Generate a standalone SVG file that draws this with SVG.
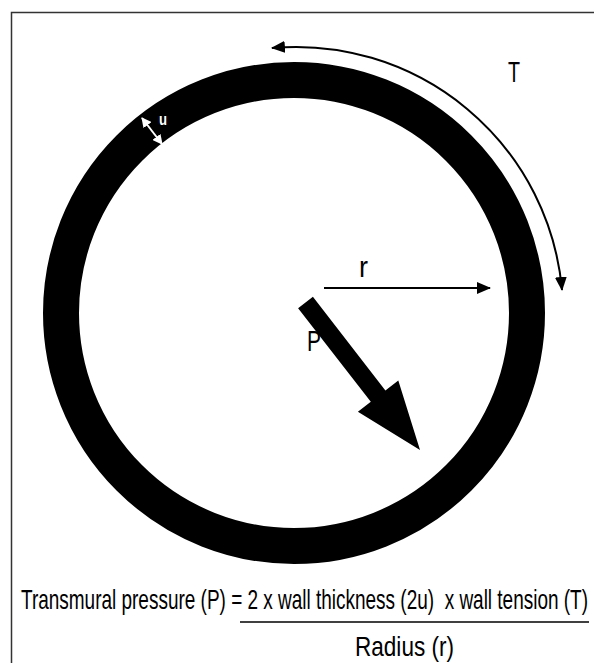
<svg xmlns="http://www.w3.org/2000/svg" width="594" height="663" viewBox="0 0 594 663">
<style>
.lbl{font-family:"Liberation Sans",Arial,sans-serif;fill:#000}
.conn{stroke:#000;stroke-width:2;fill:none}
</style>
<defs>
<marker id="ah" markerWidth="14" markerHeight="12" refX="13" refY="6" orient="auto" markerUnits="userSpaceOnUse">
<path d="M0,0 L14,6 L0,12 Z" fill="#000"/>
</marker>
<marker id="ahs" markerWidth="14" markerHeight="12" refX="1" refY="6" orient="auto" markerUnits="userSpaceOnUse">
<path d="M14,0 L0,6 L14,12 Z" fill="#000"/>
</marker>
<marker id="wh" markerWidth="10" markerHeight="10" refX="9" refY="5" orient="auto" markerUnits="userSpaceOnUse">
<path d="M0,0 L10,5 L0,10 Z" fill="#fff"/>
</marker>
<marker id="whs" markerWidth="10" markerHeight="10" refX="1" refY="5" orient="auto" markerUnits="userSpaceOnUse">
<path d="M10,0 L0,5 L10,10 Z" fill="#fff"/>
</marker>
</defs>
<rect width="594" height="663" fill="#fff"/>
<rect id="frame" x="11.5" y="12.5" width="620" height="700" fill="none" stroke="#333" stroke-width="1.5"/>

<g id="vessel">
<circle cx="294" cy="313" r="233" fill="none" stroke="#000" stroke-width="36"/>
</g>

<g id="connectors">
<path id="tension-arc" class="conn" d="M272,48 A267,267 0 0 1 562,290" marker-start="url(#ahs)" marker-end="url(#ah)"/>
<line id="radius-arrow" class="conn" x1="324" y1="288" x2="490" y2="288" marker-end="url(#ah)"/>
<line id="thickness-arrow" x1="142" y1="118" x2="162" y2="144" stroke="#fff" stroke-width="2" marker-start="url(#whs)" marker-end="url(#wh)"/>
<polygon id="pressure-arrow" points="312.9,296.8 385.4,390.4 398.3,380.4 420,450 357.9,411.8 370.8,401.8 298.1,308.2" fill="#000"/>
</g>

<g id="label-T"><text class="lbl" x="508" y="82" font-size="29" textLength="12" lengthAdjust="spacingAndGlyphs">T</text></g>
<g id="label-u"><text class="lbl" x="159" y="125" font-size="17" font-weight="bold" style="fill:#fff" textLength="8" lengthAdjust="spacingAndGlyphs">u</text></g>
<g id="label-r"><text class="lbl" x="359" y="277" font-size="29" textLength="9" lengthAdjust="spacingAndGlyphs">r</text></g>
<g id="label-P"><text class="lbl" x="307" y="351" font-size="29" textLength="14" lengthAdjust="spacingAndGlyphs">P</text></g>

<g id="equation">
<text class="lbl" x="21" y="609" font-size="28" textLength="567" lengthAdjust="spacingAndGlyphs" xml:space="preserve">Transmural pressure (P) = 2 x wall thickness (2u)  x wall tension (T)</text>
<line x1="240" y1="622" x2="589" y2="622" stroke="#000" stroke-width="1.5"/>
<text class="lbl" x="355" y="656" font-size="28" textLength="99" lengthAdjust="spacingAndGlyphs">Radius (r)</text>
</g>
</svg>
